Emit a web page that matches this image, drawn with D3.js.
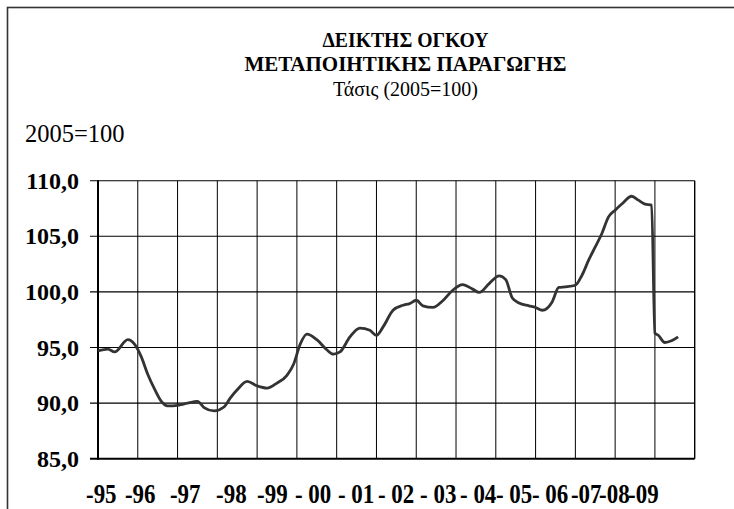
<!DOCTYPE html>
<html><head><meta charset="utf-8">
<script src="https://cdn.jsdelivr.net/npm/d3@7"></script>
<style>html,body{margin:0;padding:0;background:#fff;} svg{display:block;}</style>
</head><body>
<svg id="chart" width="734" height="509"></svg>
<script>
// ---- data ----
const titleLines = ["ΔΕΙΚΤΗΣ ΟΓΚΟΥ", "ΜΕΤΑΠΟΙΗΤΙΚΗΣ ΠΑΡΑΓΩΓΗΣ"];
const subtitle = "Τάσις (2005=100)";
const unitLabel = "2005=100";
const years = [1995,1996,1997,1998,1999,2000,2001,2002,2003,2004,2005,2006,2007,2008,2009];
const yearLabels = ["-95","-96","-97","-98","-99","- 00","- 01","- 02","- 03","- 04","- 05","- 06","-07","-08","-09"];
const yTicks = [85,90,95,100,105,110];
const periods = ["1995-01","1995-04","1995-06","1995-10","1995-12","1996-02","1996-04","1996-06","1996-08","1996-10",
  "1997-01","1997-04","1997-07","1997-09","1997-12","1998-03","1998-05","1998-07","1998-10",
  "1999-01","1999-04","1999-07","1999-10","1999-12","2000-02","2000-04","2000-07","2000-10","2000-12",
  "2001-02","2001-05","2001-08","2001-11","2002-01","2002-03","2002-06","2002-09","2002-11",
  "2003-01","2003-03","2003-06","2003-09","2003-12","2004-03","2004-06","2004-08","2004-11",
  "2005-02","2005-04","2005-06","2005-08","2005-11","2006-01","2006-03","2006-06","2006-08","2006-10",
  "2007-01","2007-03","2007-05","2007-07","2007-09","2007-11","2008-01","2008-03","2008-06","2008-08","2008-10","2008-12",
  "2009-01","2009-02","2009-04","2009-06","2009-08"];
const values = [94.7,94.85,94.6,95.7,95.3,94.2,92.6,91.3,90.2,89.75,
  89.8,90.0,90.15,89.6,89.3,89.65,90.5,91.2,91.95,
  91.55,91.35,91.8,92.5,93.5,95.3,96.2,95.7,94.8,94.4,
  94.6,95.95,96.75,96.55,96.1,96.85,98.35,98.8,98.95,
  99.25,98.75,98.6,99.2,100.15,100.65,100.25,99.95,100.75,
  101.45,101.1,99.45,99.0,98.75,98.6,98.35,99.1,100.4,100.45,
  100.6,101.5,102.85,104.05,105.25,106.75,107.35,107.9,108.6,108.25,107.9,107.8,
  96.3,96.1,95.45,95.6,95.95];

// ---- layout ----
const L = 98, R = 694.7, T = 180.7, B = 458.7;
const labelDx = [-12,-12.8,-7.6,-1.3,-0.1,-1.9,1.3,1.5,3.8,4,0.2,-3.6,-4.4,-16.1,-26.9];
const titleWidths = [166, 322];
const serif = "'Liberation Serif','Times New Roman',serif";

const svg = d3.select("#chart");
const monthIndex = p => { const [y,m] = p.split("-").map(Number); return (y-1995)*12 + (m-1); };
const x = d3.scaleLinear().domain([0, 180]).range([L, R]);
const y = d3.scaleLinear().domain([85, 110]).range([B, T]);

// outer frame
svg.append("rect").attr("x",7.5).attr("y",7.5).attr("width",760).attr("height",540)
  .attr("fill","none").attr("stroke","#333").attr("stroke-width",1.6);

// titles
svg.selectAll(".title").data(titleLines).join("text")
  .attr("x",(d,i)=>405.5-titleWidths[i]/2).attr("y",(d,i)=>47+i*24)
  .attr("textLength",(d,i)=>titleWidths[i]).attr("lengthAdjust","spacingAndGlyphs")
  .attr("font-family",serif).attr("font-weight","bold").attr("font-size",20.5).text(d=>d);
svg.append("text").attr("x",405.5).attr("y",96).attr("text-anchor","middle")
  .attr("font-family",serif).attr("font-size",20).text(subtitle);
svg.append("text").attr("x",25).attr("y",142)
  .attr("font-family",serif).attr("font-size",24.5).text(unitLabel);

// horizontal grid + y ticks
const g = svg.append("g");
g.selectAll(".hg").data(yTicks).join("line")
  .attr("x1",L-8).attr("x2",R).attr("y1",d=>y(d)).attr("y2",d=>y(d))
  .attr("stroke","#000").attr("stroke-width",d=>d===85?2:1.1);
// vertical grid
g.selectAll(".vg").data(years.slice(1)).join("line")
  .attr("x1",d=>x((d-1995)*12)).attr("x2",d=>x((d-1995)*12)).attr("y1",T).attr("y2",B)
  .attr("stroke","#000").attr("stroke-width",1);
// right border
g.append("line").attr("x1",R).attr("x2",R).attr("y1",T).attr("y2",B).attr("stroke","#000").attr("stroke-width",1.4);
// left axis
g.append("line").attr("x1",L).attr("x2",L).attr("y1",T-0.5).attr("y2",B+1).attr("stroke","#000").attr("stroke-width",2);

// y labels
svg.selectAll(".yl").data(yTicks).join("text")
  .attr("x",79).attr("y",d=>y(d)+8).attr("text-anchor","end")
  .attr("font-family",serif).attr("font-weight","bold").attr("font-size",24).text(d=>d3.format(".1f")(d).replace(".",","));

// x labels
svg.selectAll(".xl").data(years).join("text")
  .attr("transform",(d,i)=>`translate(${x((d-1995)*12)+labelDx[i]},503) scale(0.85,1)`)
  .attr("font-family",serif).attr("font-weight","bold").attr("font-size",27).text((d,i)=>yearLabels[i]);

// line
const data = periods.map((p,i)=>({m:monthIndex(p), v:values[i]}));
svg.append("path").datum(data)
  .attr("d", d3.line().x(d=>x(d.m)).y(d=>y(d.v)).curve(d3.curveMonotoneX))
  .attr("fill","none").attr("stroke","#333").attr("stroke-width",2.8).attr("stroke-linejoin","round");
</script>
</body></html>
